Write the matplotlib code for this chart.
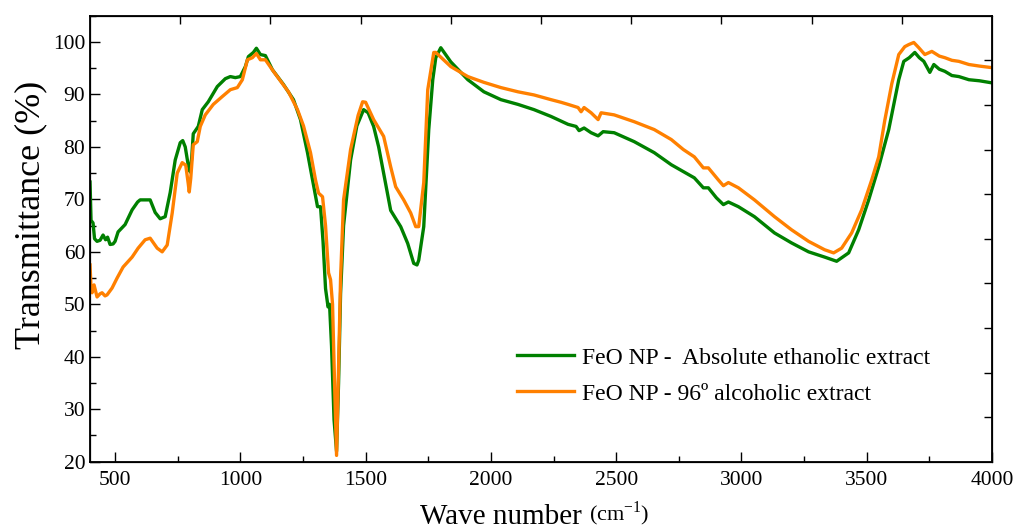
import matplotlib.pyplot as plt
from matplotlib.ticker import MultipleLocator

plt.rcParams['font.family'] = ['Liberation Serif', 'DejaVu Serif']
plt.rcParams['mathtext.fontset'] = 'custom'
plt.rcParams['mathtext.rm'] = 'Liberation Serif'

# ------------------------------------------------------------
# data
# ------------------------------------------------------------
green_x = [400, 404, 412, 418, 428, 440, 452, 462, 470, 480, 492, 500, 512, 540, 568,
           590, 600, 640, 660, 680, 700, 720, 740, 760, 770, 780, 792, 800, 806, 812,
           832, 848, 872, 908, 940, 960, 980, 1000, 1020, 1032, 1052, 1064, 1080, 1100,
           1128, 1172, 1212, 1240, 1268, 1288, 1300, 1308, 1320, 1330, 1340, 1350, 1356,
           1364, 1374, 1384, 1392, 1400, 1412, 1440, 1465, 1492, 1510, 1532, 1552, 1572,
           1600, 1640, 1668, 1692, 1705, 1712, 1732, 1752, 1768, 1780, 1800, 1840, 1908,
           1972, 2040, 2108, 2172, 2240, 2308, 2340, 2352, 2372, 2400, 2428, 2448, 2492,
           2572, 2652, 2720, 2768, 2812, 2848, 2868, 2900, 2928, 2948, 2988, 3052, 3132,
           3200, 3268, 3332, 3380, 3428, 3468, 3508, 3548, 3588, 3628, 3648, 3670, 3692,
           3710, 3728, 3752, 3768, 3790, 3812, 3840, 3868, 3908, 3950, 4000]
green_y = [73.3, 66.0, 65.5, 62.5, 62.0, 62.2, 63.2, 62.3, 62.8, 61.4, 61.5, 62.0, 63.8, 65.2, 68.0,
           69.5, 69.9, 69.9, 67.5, 66.3, 66.7, 71.3, 77.5, 80.8, 81.2, 80.0, 76.5, 75.2, 78.0, 82.5,
           83.9, 87.1, 88.6, 91.5, 93.0, 93.4, 93.2, 93.4, 95.3, 97.2, 98.0, 98.8, 97.6, 97.4,
           94.7, 91.9, 89.0, 85.2, 78.9, 73.7, 70.5, 68.6, 68.6, 62.0, 53.0, 49.5, 50.0,
           42.0, 28.0, 22.0, 35.0, 52.0, 65.0, 77.5, 84.0, 87.1, 86.5, 83.9, 80.0, 75.0,
           67.9, 64.8, 61.6, 57.8, 57.5, 58.4, 64.8, 83.3, 92.8, 97.0, 98.9, 96.2, 92.8,
           90.5, 89.0, 88.1, 87.1, 85.8, 84.3, 83.9, 83.1, 83.6, 82.7, 82.1, 82.9, 82.7,
           81.0, 78.9, 76.6, 75.3, 74.1, 72.2, 72.2, 70.3, 69.0, 69.5, 68.6, 66.7, 63.6,
           61.7, 60.0, 59.0, 58.2, 59.8, 64.2, 69.9, 76.2, 83.3, 92.8, 96.3, 97.0, 98.0,
           97.0, 96.3, 94.2, 95.7, 94.8, 94.4, 93.6, 93.4, 92.8, 92.6, 92.2]

orange_x = [400, 404, 408, 416, 428, 440, 448, 460, 468, 488, 508, 532, 568, 592, 620,
            640, 668, 688, 708, 728, 748, 768, 782, 792, 796, 802, 812, 828, 840, 860,
            892, 928, 960, 988, 1008, 1028, 1048, 1064, 1080, 1100, 1132, 1192, 1228,
            1252, 1280, 1300, 1312, 1328, 1340, 1352, 1360, 1368, 1376, 1384, 1392, 1400,
            1412, 1440, 1470, 1488, 1500, 1532, 1572, 1600, 1620, 1652, 1680, 1700, 1712,
            1732, 1748, 1772, 1780, 1840, 1908, 1972, 2040, 2108, 2172, 2240, 2280, 2308,
            2348, 2360, 2372, 2400, 2428, 2440, 2492, 2572, 2652, 2720, 2768, 2812, 2848,
            2868, 2908, 2928, 2948, 2988, 3052, 3132, 3200, 3268, 3332, 3368, 3400, 3440,
            3480, 3520, 3548, 3572, 3600, 3628, 3652, 3668, 3688, 3708, 3732, 3760, 3790,
            3812, 3840, 3868, 3908, 3950, 4000]
orange_y = [57.5, 53.0, 52.2, 53.7, 51.4, 52.0, 52.2, 51.6, 51.8, 53.1, 55.0, 57.1, 59.0, 60.7, 62.3,
            62.6, 60.7, 60.0, 61.3, 67.4, 75.0, 77.0, 76.5, 73.0, 71.4, 74.0, 80.4, 81.0, 83.9, 86.1,
            88.1, 89.6, 90.9, 91.3, 92.8, 96.6, 97.0, 97.8, 96.6, 96.6, 94.4, 90.5, 87.1,
            84.0, 78.9, 73.7, 71.2, 70.5, 65.0, 56.0, 54.7, 50.0, 35.0, 21.2, 38.0, 55.0,
            69.9, 79.5, 86.0, 88.6, 88.5, 85.2, 82.0, 76.2, 72.4, 69.9, 67.4, 64.8, 64.8,
            73.2, 90.9, 98.0, 98.0, 95.3, 93.4, 92.3, 91.3, 90.5, 89.9, 89.0, 88.5, 88.1,
            87.5, 86.7, 87.5, 86.5, 85.2, 86.5, 86.1, 84.8, 83.3, 81.4, 79.5, 78.1, 76.0,
            76.0, 73.7, 72.6, 73.2, 72.2, 69.9, 66.7, 64.2, 62.0, 60.4, 59.8, 60.7, 63.6,
            68.0, 73.7, 78.1, 85.0, 92.0, 97.6, 99.1, 99.5, 99.9, 98.9, 97.6, 98.2, 97.3,
            97.0, 96.5, 96.3, 95.7, 95.4, 95.1]

labels = ["FeO NP -  Absolute ethanolic extract", "FeO NP - 96º alcoholic extract"]

# ------------------------------------------------------------
# plot
# ------------------------------------------------------------
fig = plt.figure(figsize=(10.15, 5.29), dpi=100)
ax = fig.add_axes([0.0887, 0.1272, 0.8886, 0.8431])

ax.plot(green_x, green_y, color='#008000', lw=2.4, label=labels[0])
ax.plot(orange_x, orange_y, color='#FF8000', lw=2.4, label=labels[1])

ax.set_xlim(400, 4000)
ax.set_ylim(20, 105)
ax.xaxis.set_minor_locator(MultipleLocator(250))
ax.yaxis.set_minor_locator(MultipleLocator(5))
ax.set_xticks([500, 1000, 1500, 2000, 2500, 3000, 3500, 4000])
ax.set_yticks([20, 30, 40, 50, 60, 70, 80, 90, 100])
ax.tick_params(which='major', direction='in', length=7, width=1, labelsize=15.5)
ax.tick_params(axis='x', which='major', pad=7)
ax.tick_params(which='minor', direction='in', length=4, width=1)
for s in ax.spines.values():
    s.set_linewidth(1.3)

# top / right axes have their own equal divisions (Origin style)
axt = ax.twiny()
axt.set_xlim(0, 10)
axt.set_xticks(range(1, 10))
axt.tick_params(direction='in', length=6, width=1, labeltop=False)
axr = ax.twinx()
axr.set_ylim(0, 10)
axr.set_yticks(range(1, 10))
axr.tick_params(direction='in', length=6, width=1, labelright=False)

ax.set_ylabel("Transmittance (%)", fontsize=26, labelpad=4)
ax.yaxis.label.set_y(0.553)
xl = ax.set_xlabel("Wave number ", fontsize=21, labelpad=10)
xl.set_x(0.46)
ax.annotate("(cm$^{-1}$)", xy=(1, 0.08), xycoords=xl, va='bottom', ha='left', fontsize=16)

ax.legend(loc='upper left', bbox_to_anchor=(0.473, 0.257), frameon=False, fontsize=17,
          handlelength=2.45, handletextpad=0.3, labelspacing=0.61, borderpad=0, borderaxespad=0)

fig.savefig("out.png", dpi=100)
